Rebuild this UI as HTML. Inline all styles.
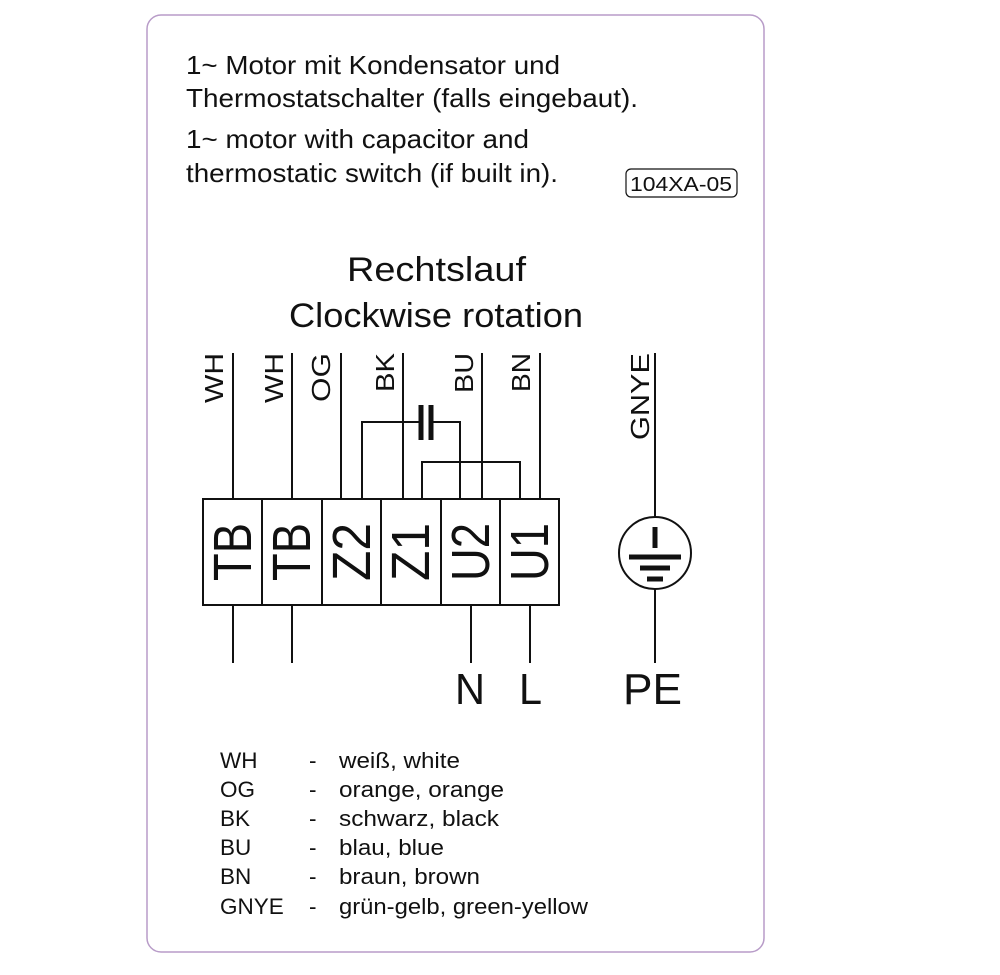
<!DOCTYPE html>
<html><head><meta charset="utf-8"><style>
html,body{margin:0;padding:0;background:#fff;}
svg{display:block;font-family:"Liberation Sans",Arial,sans-serif;}
</style></head><body>
<svg width="1000" height="975" viewBox="0 0 1000 975" xmlns="http://www.w3.org/2000/svg">
<rect x="147" y="15" width="617" height="937" rx="14" fill="#fff" stroke="#b89cc8" stroke-width="1.5"/>
<g fill="#111" font-size="26">
<text x="186" y="74" textLength="374" lengthAdjust="spacingAndGlyphs">1~ Motor mit Kondensator und</text>
<text x="186" y="107" textLength="452" lengthAdjust="spacingAndGlyphs">Thermostatschalter (falls eingebaut).</text>
<text x="186" y="148" textLength="343" lengthAdjust="spacingAndGlyphs">1~ motor with capacitor and</text>
<text x="186" y="182" textLength="372" lengthAdjust="spacingAndGlyphs">thermostatic switch (if built in).</text>
</g>
<rect x="626" y="169" width="111" height="28" rx="5" fill="none" stroke="#111" stroke-width="1.2"/>
<text x="630" y="191" font-size="20" textLength="102" lengthAdjust="spacingAndGlyphs" fill="#111">104XA-05</text>
<g fill="#111" font-size="34">
<text x="347" y="281" textLength="179" lengthAdjust="spacingAndGlyphs">Rechtslauf</text>
<text x="289" y="327" textLength="294" lengthAdjust="spacingAndGlyphs">Clockwise rotation</text>
</g>
<g stroke="#111" stroke-width="2" fill="none">
<line x1="233" y1="353" x2="233" y2="499"/>
<line x1="292" y1="353" x2="292" y2="499"/>
<line x1="341" y1="353" x2="341" y2="499"/>
<line x1="403" y1="353" x2="403" y2="499"/>
<line x1="482" y1="353" x2="482" y2="499"/>
<line x1="540" y1="353" x2="540" y2="499"/>
<polyline points="362,499 362,422 421,422"/>
<polyline points="431,422 460,422 460,499"/>
<polyline points="422,499 422,462 520,462 520,499"/>
<line x1="233" y1="605" x2="233" y2="663"/>
<line x1="292" y1="605" x2="292" y2="663"/>
<line x1="471" y1="605" x2="471" y2="663"/>
<line x1="530" y1="605" x2="530" y2="663"/>
<rect x="203" y="499" width="356" height="106"/>
<line x1="262" y1="499" x2="262" y2="605"/>
<line x1="322" y1="499" x2="322" y2="605"/>
<line x1="381" y1="499" x2="381" y2="605"/>
<line x1="441" y1="499" x2="441" y2="605"/>
<line x1="500" y1="499" x2="500" y2="605"/>
<line x1="655" y1="353" x2="655" y2="517"/>
<line x1="655" y1="589" x2="655" y2="663"/>
<circle cx="655" cy="553" r="36"/>
</g>
<g stroke="#111" stroke-width="5">
<line x1="421" y1="405" x2="421" y2="440"/>
<line x1="431" y1="405" x2="431" y2="440"/>
<line x1="655" y1="527" x2="655" y2="548"/>
<line x1="629" y1="557" x2="681" y2="557"/>
<line x1="640" y1="568" x2="670" y2="568"/>
<line x1="647" y1="579" x2="663" y2="579"/>
</g>
<g fill="#111" font-size="26">
<text transform="translate(223,403) rotate(-90)" textLength="50" lengthAdjust="spacingAndGlyphs">WH</text>
<text transform="translate(283,403) rotate(-90)" textLength="50" lengthAdjust="spacingAndGlyphs">WH</text>
<text transform="translate(330,402) rotate(-90)" textLength="49" lengthAdjust="spacingAndGlyphs">OG</text>
<text transform="translate(394,392) rotate(-90)" textLength="39" lengthAdjust="spacingAndGlyphs">BK</text>
<text transform="translate(473,393) rotate(-90)" textLength="40" lengthAdjust="spacingAndGlyphs">BU</text>
<text transform="translate(530,392) rotate(-90)" textLength="39" lengthAdjust="spacingAndGlyphs">BN</text>
<text transform="translate(649,440) rotate(-90)" textLength="87" lengthAdjust="spacingAndGlyphs">GNYE</text>
</g>
<g fill="#111" font-size="54">
<text transform="translate(251,581) rotate(-90)" textLength="58" lengthAdjust="spacingAndGlyphs">TB</text>
<text transform="translate(310,581) rotate(-90)" textLength="58" lengthAdjust="spacingAndGlyphs">TB</text>
<text transform="translate(370,581) rotate(-90)" textLength="58" lengthAdjust="spacingAndGlyphs">Z2</text>
<text transform="translate(429,581) rotate(-90)" textLength="58" lengthAdjust="spacingAndGlyphs">Z1</text>
<text transform="translate(489,581) rotate(-90)" textLength="58" lengthAdjust="spacingAndGlyphs">U2</text>
<text transform="translate(548,581) rotate(-90)" textLength="58" lengthAdjust="spacingAndGlyphs">U1</text>
</g>
<g fill="#111" font-size="44">
<text x="455" y="704" textLength="30" lengthAdjust="spacingAndGlyphs">N</text>
<text x="519" y="704" textLength="23" lengthAdjust="spacingAndGlyphs">L</text>
<text x="623" y="704" textLength="59" lengthAdjust="spacingAndGlyphs">PE</text>
</g>
<g fill="#111" font-size="22.5">
<text x="220" y="768">WH</text><text x="309" y="768">-</text><text x="339" y="768" textLength="121" lengthAdjust="spacingAndGlyphs">weiß, white</text>
<text x="220" y="797">OG</text><text x="309" y="797">-</text><text x="339" y="797" textLength="165" lengthAdjust="spacingAndGlyphs">orange, orange</text>
<text x="220" y="826">BK</text><text x="309" y="826">-</text><text x="339" y="826" textLength="160" lengthAdjust="spacingAndGlyphs">schwarz, black</text>
<text x="220" y="855">BU</text><text x="309" y="855">-</text><text x="339" y="855" textLength="105" lengthAdjust="spacingAndGlyphs">blau, blue</text>
<text x="220" y="884">BN</text><text x="309" y="884">-</text><text x="339" y="884" textLength="141" lengthAdjust="spacingAndGlyphs">braun, brown</text>
<text x="220" y="914">GNYE</text><text x="309" y="914">-</text><text x="339" y="914" textLength="249" lengthAdjust="spacingAndGlyphs">grün-gelb, green-yellow</text>
</g>
</svg>
</body></html>
